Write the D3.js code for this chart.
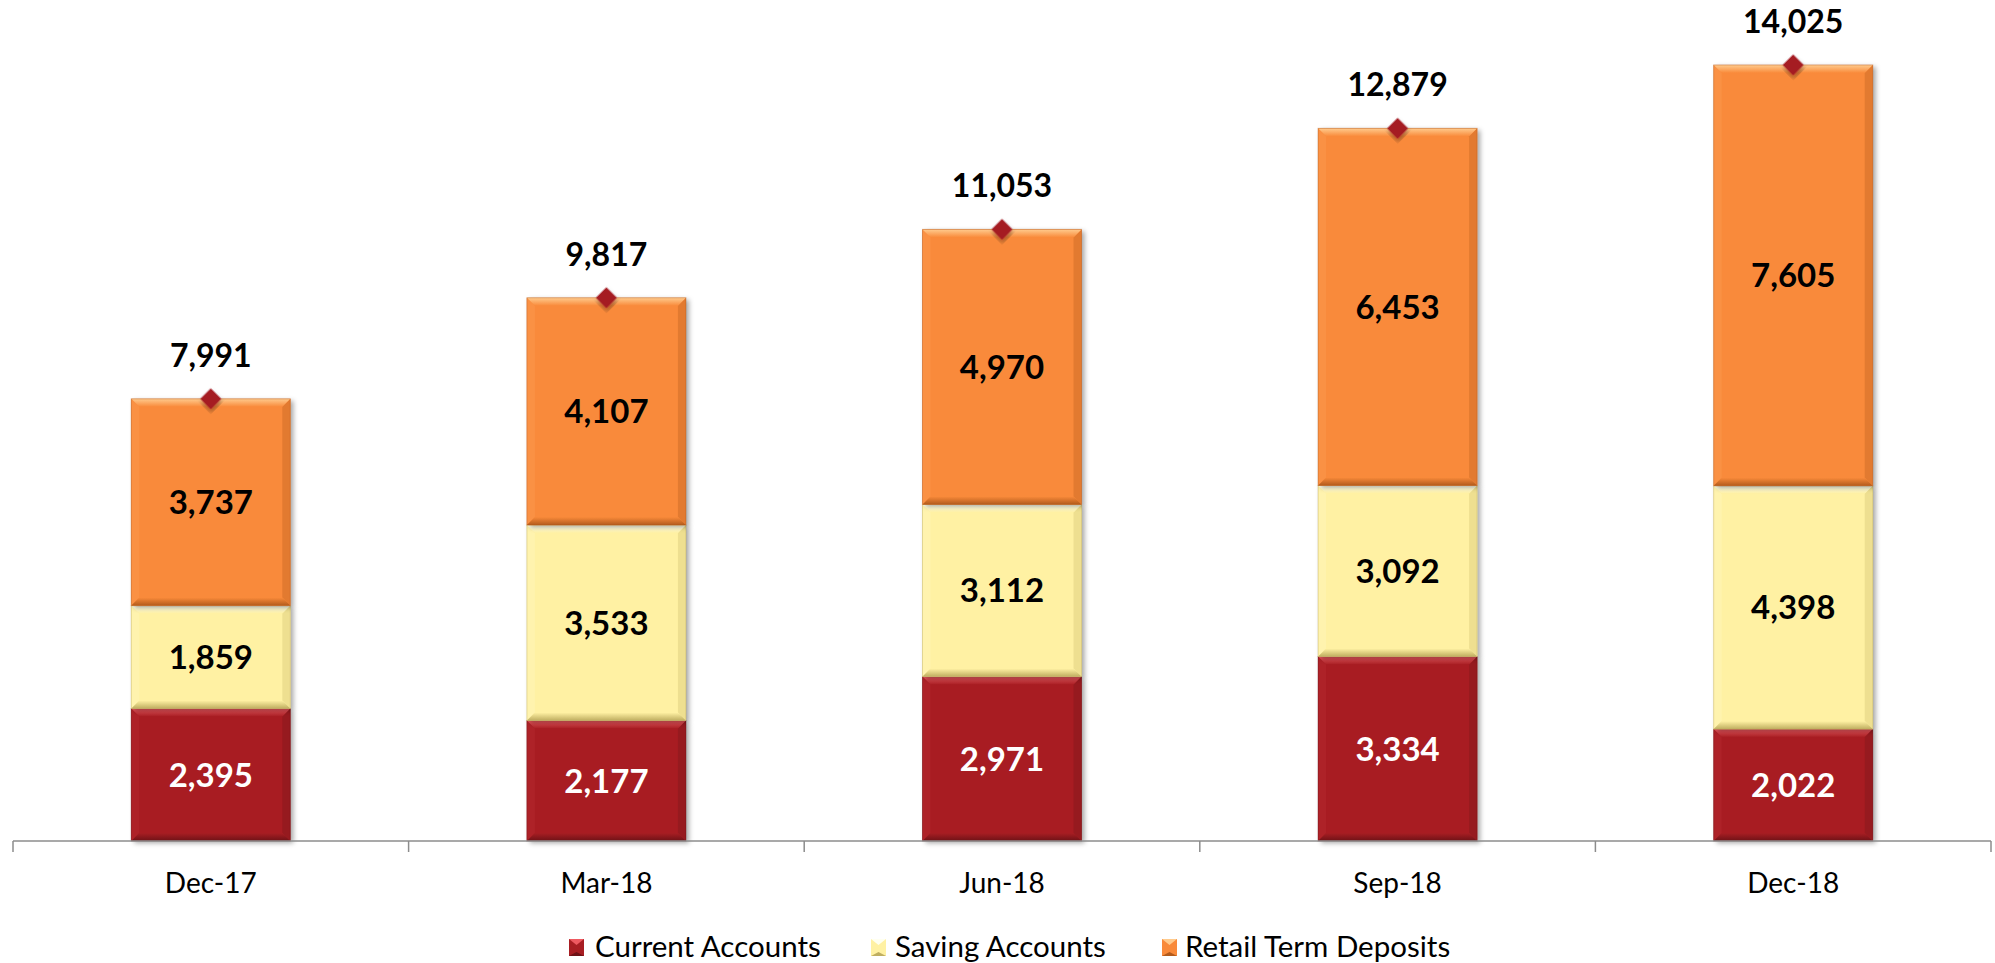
<!DOCTYPE html>
<html>
<head>
<meta charset="utf-8">
<script src="https://cdn.jsdelivr.net/npm/d3@7"></script>
<style>
  html, body { margin: 0; padding: 0; background: #ffffff; }
  svg { display: block; }
  text { font-family: Lato, "Open Sans", sans-serif; }
</style>
</head>
<body>
<svg id="chart" width="1995" height="963"></svg>
<script>
const categories = ["Dec-17", "Mar-18", "Jun-18", "Sep-18", "Dec-18"];
const currentAccounts = [2395, 2177, 2971, 3334, 2022];
const savingAccounts = [1859, 3533, 3112, 3092, 4398];
const retailTermDeposits = [3737, 4107, 4970, 6453, 7605];
const totals = [7991, 9817, 11053, 12879, 14025];
const seriesNames = ["Current Accounts", "Saving Accounts", "Retail Term Deposits"];

const styles = [
  { base: "#A81E23", light: "#EE5A61", dark: "#6E1216", side: "#AE2228", sideDark: "#961A1F", text: "#ffffff" },
  { base: "#FFF1A3", light: "#FFFFF0", dark: "#BFAE60", side: "#FFF3AE", sideDark: "#EEDF90", text: "#000000" },
  { base: "#F98A3A", light: "#FFCB8E", dark: "#B35B1C", side: "#FA9144", sideDark: "#E27A30", text: "#000000" }
];

const svg = d3.select("#chart");
const defs = svg.append("defs");

const shadow = defs.append("filter").attr("id", "shadow")
  .attr("x", "-20%").attr("y", "-20%").attr("width", "140%").attr("height", "140%");
shadow.append("feDropShadow").attr("dx", 3).attr("dy", 2).attr("stdDeviation", 2.5)
  .attr("flood-color", "#000").attr("flood-opacity", 0.35);

styles.forEach((s, i) => {
  const gt = defs.append("linearGradient").attr("id", "top" + i).attr("x1", 0).attr("y1", 0).attr("x2", 0).attr("y2", 1);
  gt.append("stop").attr("offset", "0%").attr("stop-color", s.light);
  gt.append("stop").attr("offset", "100%").attr("stop-color", s.base);
  const gb = defs.append("linearGradient").attr("id", "bot" + i).attr("x1", 0).attr("y1", 0).attr("x2", 0).attr("y2", 1);
  gb.append("stop").attr("offset", "0%").attr("stop-color", s.base);
  gb.append("stop").attr("offset", "100%").attr("stop-color", s.dark);
});

const x = d3.scaleBand().domain(categories).range([13, 1991]).padding(0);
const y = d3.scaleLinear().domain([0, 15000]).range([841, 11]);
const barW = x.bandwidth() * 0.402;

const seriesValues = [currentAccounts, savingAccounts, retailTermDeposits];
const stackData = categories.map((c, i) => {
  const o = { cat: c };
  seriesNames.forEach((n, k) => o[n] = seriesValues[k][i]);
  return o;
});
const stacked = d3.stack().keys(seriesNames)(stackData);

const bars = svg.append("g");
const bevel = 8;

stacked.forEach((layer, k) => {
  const s = styles[k];
  layer.forEach((d, i) => {
    const cat = categories[i];
    const x0 = x(cat) + (x.bandwidth() - barW) / 2;
    const x1 = x0 + barW;
    const yt = y(d[1]);
    const yb = y(d[0]);
    const g = bars.append("g");
    g.append("rect").attr("x", x0).attr("y", yt).attr("width", barW).attr("height", yb - yt)
      .attr("fill", s.base).attr("filter", "url(#shadow)");
    g.append("polygon").attr("points", [[x0, yt], [x0 + bevel, yt + bevel], [x0 + bevel, yb - bevel], [x0, yb]].join(" "))
      .attr("fill", s.side);
    g.append("polygon").attr("points", [[x1, yt], [x1 - bevel, yt + bevel], [x1 - bevel, yb - bevel], [x1, yb]].join(" "))
      .attr("fill", s.sideDark);
    g.append("polygon").attr("points", [[x0, yt], [x1, yt], [x1 - bevel, yt + bevel], [x0 + bevel, yt + bevel]].join(" "))
      .attr("fill", "url(#top" + k + ")");
    g.append("polygon").attr("points", [[x0, yb], [x1, yb], [x1 - bevel, yb - bevel], [x0 + bevel, yb - bevel]].join(" "))
      .attr("fill", "url(#bot" + k + ")");
    g.append("rect").attr("x", x0).attr("y", yt).attr("width", barW).attr("height", yb - yt)
      .attr("fill", "none").attr("stroke", s.dark).attr("stroke-opacity", 0.45).attr("stroke-width", 1);
    g.append("text")
      .attr("x", x0 + barW / 2)
      .attr("y", (yt + yb) / 2)
      .attr("dy", "0.36em")
      .attr("text-anchor", "middle")
      .attr("font-size", 33).attr("font-weight", 700)
      .attr("fill", s.text)
      .text(d3.format(",")(seriesValues[k][i]));
  });
});

// axis
const axisG = svg.append("g").attr("transform", "translate(0,841)");
axisG.append("line").attr("x1", 13).attr("x2", 1991).attr("y1", 0).attr("y2", 0)
  .attr("stroke", "#8c8c8c").attr("stroke-width", 1.5);
const bounds = categories.map(c => x(c)).concat([x(categories[categories.length - 1]) + x.bandwidth()]);
axisG.selectAll("line.tick").data(bounds).enter().append("line")
  .attr("x1", d => d).attr("x2", d => d).attr("y1", 0).attr("y2", 11)
  .attr("stroke", "#8c8c8c").attr("stroke-width", 1.5);
axisG.selectAll("text.cat").data(categories).enter().append("text")
  .attr("x", d => x(d) + x.bandwidth() / 2)
  .attr("y", 52)
  .attr("text-anchor", "middle")
  .attr("font-size", 28)
  .attr("fill", "#000")
  .text(d => d);

// totals: diamonds + labels
const totG = svg.append("g");
totals.forEach((t, i) => {
  const cx = x(categories[i]) + x.bandwidth() / 2;
  const cy = y(t);
  totG.append("path")
    .attr("d", d3.symbol().type(d3.symbolSquare).size(220)())
    .attr("transform", `translate(${cx},${cy}) rotate(45)`)
    .attr("fill", "#A51D24")
    .attr("filter", "url(#shadow)");
  totG.append("text")
    .attr("x", cx).attr("y", cy - 32)
    .attr("text-anchor", "middle")
    .attr("font-size", 32).attr("font-weight", 700)
    .attr("fill", "#000")
    .text(d3.format(",")(t));
});

// legend
const legendItems = [
  { name: seriesNames[0], sx: 569, tx: 595 },
  { name: seriesNames[1], sx: 871, tx: 895 },
  { name: seriesNames[2], sx: 1162, tx: 1185 }
];
const lg = svg.append("g");
legendItems.forEach((it, k) => {
  const s = styles[k];
  const sy = 939, sz = 17;
  lg.append("rect").attr("x", it.sx).attr("y", sy).attr("width", sz - 2).attr("height", sz).attr("fill", s.base);
  lg.append("polygon").attr("points", [[it.sx, sy], [it.sx + sz - 2, sy], [it.sx + (sz - 2) / 2, sy + 6]].join(" "))
    .attr("fill", s.light);
  lg.append("polygon").attr("points", [[it.sx, sy + sz], [it.sx + sz - 2, sy + sz], [it.sx + (sz - 2) / 2, sy + sz - 4]].join(" "))
    .attr("fill", s.dark);
  lg.append("text").attr("x", it.tx).attr("y", 957)
    .attr("font-size", 29.5).attr("fill", "#000").text(it.name);
});
</script>
</body>
</html>
